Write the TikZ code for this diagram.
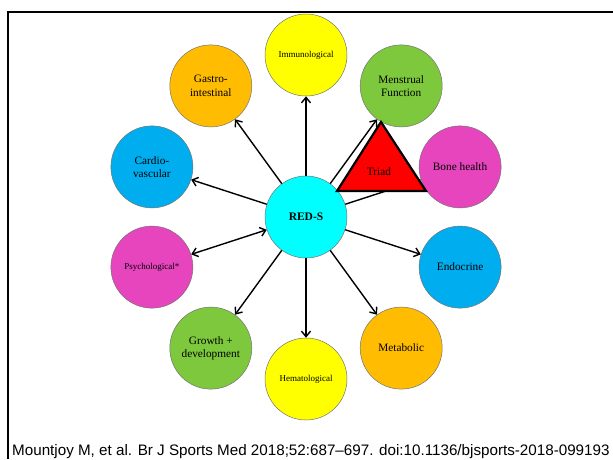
\documentclass[tikz,border=0pt]{standalone}
\usepackage{fontspec}
\setmainfont{Liberation Serif}
\newfontfamily\capfont{Liberation Sans}
\usetikzlibrary{arrows.meta}
\definecolor{yellowc}{HTML}{FFFF00}
\definecolor{orangec}{HTML}{FFBC00}
\definecolor{greenc}{HTML}{7DC83C}
\definecolor{bluec}{HTML}{00AEEF}
\definecolor{magc}{HTML}{E645BE}
\definecolor{cyanc}{HTML}{00FFFF}
\definecolor{redc}{HTML}{FF0000}
\begin{document}
\begin{tikzpicture}[x=1pt,y=-1pt,
  bub/.style={circle, minimum size=82pt, inner sep=0pt, draw=black!55, line width=0.5pt, align=center, font=\fontsize{11.3}{13.5}\selectfont},
  smalltxt/.style={font=\fontsize{9}{10}\selectfont},
  tip/.tip={Straight Barb[length=5.5pt,width=9pt,line width=1.4pt]},
  arr/.style={line width=1.4pt, -tip},
  darr/.style={line width=1.4pt, tip-tip}]
\useasboundingbox (0,0) rectangle (613,459);
\draw[line width=2pt] (8,459) -- (8,11.5) -- (613,11.5);
% nodes
\node[bub, fill=cyanc, font=\bfseries\fontsize{11.5}{13}\selectfont] (c) at (306,217) {RED-S};
\node[bub, fill=yellowc, smalltxt] (imm) at (306,55) {Immunological};
\node[bub, fill=greenc] (men) at (401.2,85.9) {Menstrual\\Function};
\node[bub, fill=magc] (bone) at (460.1,166.9) {Bone health};
\node[bub, fill=bluec] (endo) at (460.1,267.1) {Endocrine};
\node[bub, fill=orangec] (meta) at (401.2,348.1) {Metabolic};
\node[bub, fill=yellowc, smalltxt] (hema) at (306,379) {Hematological};
\node[bub, fill=greenc] (grow) at (210.8,348.1) {Growth +\\development};
\node[bub, fill=magc, smalltxt] (psy) at (151.9,267.1) {Psychological*};
\node[bub, fill=bluec] (card) at (151.9,166.9) {Cardio-\\vascular};
\node[bub, fill=orangec] (gast) at (210.8,85.9) {Gastro-\\intestinal};
% connectors
\foreach \t in {imm,men,bone,endo,meta,hema,grow,card,gast}
  \draw[arr] (c) -- (\t);
\draw[darr] (c) -- (psy);
% triad
\coordinate (ta) at (381,122);
\coordinate (tl) at (337,191);
\coordinate (tr) at (426,191);
\draw[fill=redc, line width=2.2pt, line join=miter] (ta) -- (tl) -- (tr) -- cycle;
\node[font=\fontsize{11.3}{13}\selectfont] (triad) at (379,172) {Triad};
% caption
\node[anchor=base west, inner sep=0pt, font=\capfont\fontsize{15.2}{17}\selectfont] (cap) at (12,455.5) {Mountjoy M, et al. Br J Sports Med 2018;52:687–697. doi:10.1136/bjsports-2018-099193};
\end{tikzpicture}
\end{document}
